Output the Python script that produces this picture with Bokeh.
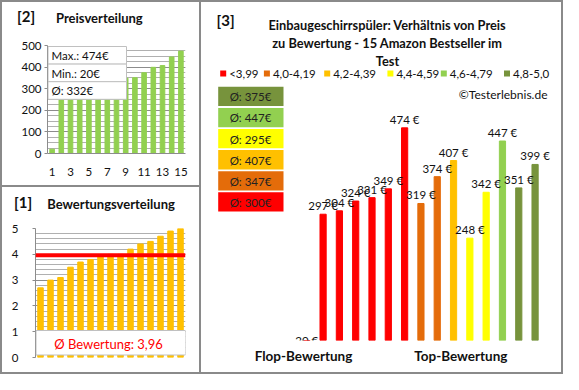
from bokeh.plotting import figure
from bokeh.models import BoxAnnotation, Label, FixedTicker, Span, ColumnDataSource
from bokeh.layouts import row, column
from bokeh.embed import file_html
from bokeh.resources import INLINE
from bokeh.core.properties import value

FONT = "Lato"
BORDER = "#8a8a8a"
GRID_MAJOR = "#8c8c8c"
GRID_MINOR = "#b0b0b0"
TXT = "#111111"

# ---------------- data ----------------
rank = list(range(1, 16))
prices_sorted = [20, 248, 297, 304, 319, 324, 331, 342, 349, 351, 374, 399, 407, 447, 474]
ratings_sorted = [2.7, 3.0, 3.1, 3.5, 3.7, 3.8, 3.9, 4.0, 4.0, 4.2, 4.4, 4.5, 4.7, 4.9, 5.0]
rating_avg = 3.96
price_max, price_min, price_avg = 474, 20, 332
price_ticks = [0, 100, 200, 300, 400, 500]
price_minor = list(range(0, 501, 25))
rank_ticks = [1, 3, 5, 7, 9, 11, 13, 15]
rating_ticks = [0, 1, 2, 3, 4, 5]
rating_minor = [i / 5 for i in range(0, 26)]

prices_by_rating = [20, 297, 304, 324, 331, 349, 474, 319, 374, 407, 248, 342, 447, 351, 399]
class_by_rating = [0, 0, 0, 0, 0, 0, 0, 1, 1, 2, 3, 3, 4, 5, 5]
class_labels = ["<3,99", "4,0-4,19", "4,2-4,39", "4,4-4,59", "4,6-4,79", "4,8-5,0"]
class_colors = ["#FF0000", "#E46C0A", "#FFC000", "#FFFF00", "#92D050", "#77933C"]
class_avgs = [300, 347, 407, 295, 447, 375]
price_axis_min = 38.3          # value axis of panel [3] starts here (20 € bar falls below it)
bottom_names = ["Flop-Bewertung", "Top-Bewertung"]
bottom_pos = [0.8, 10.45]


# ---------------- helpers ----------------
def box(p, l, t, r, b, fill=None, line=None, lw=1):
    p.add_layout(BoxAnnotation(
        left=l, right=r, top=t, bottom=b,
        left_units="canvas", right_units="canvas", top_units="canvas", bottom_units="canvas",
        fill_color=fill, fill_alpha=1.0 if fill else 0.0,
        line_color=line, line_width=lw, line_alpha=1.0 if line else 0.0,
        level="overlay"))


def label(p, x, y, text, size, bold=False, color=TXT, align="left"):
    p.add_layout(Label(
        x=x, y=y, x_units="canvas", y_units="canvas", text=text,
        text_font=FONT, text_font_size=f"{size}px",
        text_font_style="bold" if bold else "normal",
        text_color=color, text_align=align, text_baseline="middle", level="overlay"))


def style_axis(ax, size="11.5px"):
    ax.axis_line_color = GRID_MAJOR
    ax.major_tick_line_color = None
    ax.minor_tick_line_color = None
    ax.major_label_text_font = FONT
    ax.major_label_text_font_size = size
    ax.major_label_text_color = TXT


WHITE = {"background-color": "white"}
COMMON = dict(output_backend="svg", toolbar_location=None, styles=WHITE, title=None,
              outline_line_color=None, background_fill_color="white", border_fill_color="white")


def header(width, height):
    h = figure(width=width, height=height, x_range=(0, 1), y_range=(0, 1),
               x_axis_location=None, y_axis_location=None,
               min_border_left=0, min_border_right=0, min_border_top=0, min_border_bottom=0,
               **COMMON)
    h.grid.grid_line_color = None
    h.scatter(x=[], y=[])
    return h


# ---------------- panel [2] Preisverteilung ----------------
LW = 197
h2 = header(LW, 36)
label(h2, 14.5, 13.5, "[2]", 15, bold=True)
label(h2, 53.5, 15.5, "Preisverteilung", 13, bold=True)

p2 = figure(width=LW, height=147, x_range=(0.5, 15.5), y_range=(0, 500),
            min_border_left=45, min_border_right=14, min_border_top=7, min_border_bottom=32,
            **COMMON)
p2.vbar(x=rank, top=prices_sorted, width=0.5, color="#92D050")
p2.xgrid.grid_line_color = None
p2.yaxis.ticker = FixedTicker(ticks=price_ticks, minor_ticks=price_minor)
p2.xaxis.ticker = FixedTicker(ticks=rank_ticks)
p2.ygrid.grid_line_color = GRID_MAJOR
p2.ygrid.minor_grid_line_color = GRID_MINOR
for ax in p2.axis:
    style_axis(ax)
p2.yaxis.major_tick_line_color = GRID_MAJOR
p2.yaxis.major_tick_out = 3
p2.yaxis.major_tick_in = 0
p2.yaxis.major_label_standoff = 2
p2.xaxis.major_label_standoff = 8
stats = [f"Max.: {price_max}€", f"Min.: {price_min}€", f"Ø: {price_avg}€"]
for i, s in enumerate(stats):
    t = 8 + i * 17.6
    box(p2, 45.5, t, 124, t + 17.6, "white", "#c0c0c0", 1)
    label(p2, 49, t + 9, s, 11.5)

# ---------------- panel [1] Bewertungsverteilung ----------------
h1 = header(LW, 34)
label(h1, 11.6, 14.5, "[1]", 15, bold=True)
label(h1, 44.7, 16.5, "Bewertungsverteilung", 13, bold=True)

p1 = figure(width=LW, height=151, x_range=(0.5, 15.5), y_range=(0, 5),
            x_axis_location=None,
            min_border_left=33, min_border_right=14, min_border_top=7, min_border_bottom=15,
            **COMMON)
p1.vbar(x=rank, top=ratings_sorted, width=0.55, color="#FFC000")
p1.xgrid.grid_line_color = None
p1.yaxis.ticker = FixedTicker(ticks=rating_ticks, minor_ticks=rating_minor)
p1.ygrid.grid_line_color = GRID_MAJOR
p1.ygrid.minor_grid_line_color = GRID_MINOR
style_axis(p1.yaxis[0])
p1.yaxis.major_tick_line_color = GRID_MAJOR
p1.yaxis.major_tick_out = 3
p1.yaxis.major_tick_in = 0
p1.yaxis.major_label_standoff = 13
p1.add_layout(Span(location=rating_avg, dimension="width", line_color="#FF0000", line_width=4))
box(p1, 33.5, 109, 183, 133.5, "white", "#c0c0c0", 1)
label(p1, 106, 122, "Ø Bewertung: " + f"{rating_avg:.2f}".replace(".", ","), 13, color="#FF0000", align="center")

# ---------------- panel [3] Preis vs Bewertung ----------------
p3 = figure(width=360, height=370, x_range=(-5.456, 16.62), y_range=(price_axis_min, 730.8),
            y_axis_location=None,
            min_border_left=0, min_border_right=0, min_border_top=0, min_border_bottom=32,
            **COMMON)
p3.grid.grid_line_color = None
src = ColumnDataSource(dict(
    x=rank,
    price=prices_by_rating,
    color=[class_colors[c] for c in class_by_rating],
    txt=[f"{v} €" for v in prices_by_rating],
))
p3.vbar(x="x", top="price", bottom=0, width=0.38, color="color", source=src)
p3.text(x="x", y="price", text="txt", source=src, text_font=value(FONT),
        text_font_size="11.5px", text_align="center", text_baseline="bottom",
        y_offset=-2, text_color=TXT)
xa = p3.xaxis[0]
xa.ticker = FixedTicker(ticks=bottom_pos)
xa.major_label_overrides = {pos: name for pos, name in zip(bottom_pos, bottom_names)}
xa.axis_line_color = None
xa.major_tick_line_color = None
xa.minor_tick_line_color = None
xa.major_label_text_font = FONT
xa.major_label_text_font_size = "13.5px"
xa.major_label_text_font_style = "bold"
xa.major_label_text_color = TXT
xa.major_label_standoff = 1

label(p3, 15, 17, "[3]", 15, bold=True)
title_lines = ["Einbaugeschirrspüler: Verhältnis von Preis",
               "zu Bewertung - 15 Amazon Bestseller im",
               "Test"]
for i, tl in enumerate(title_lines):
    label(p3, 186, 22 + i * 18.2, tl, 12.8, bold=True, align="center")

leg_sq = [18.7, 62.4, 122.7, 185.9, 239.3, 302.5]
for xs, lab, col in zip(leg_sq, class_labels, class_colors):
    box(p3, xs, 68, xs + 6, 74, col)
    label(p3, xs + 9, 71, lab, 11.5)

for i, (avg, col) in enumerate(zip(class_avgs[::-1], class_colors[::-1])):
    t = 84.3 + i * 21.1
    box(p3, 16.7, t, 82, t + 19.3, col)
    label(p3, 49, t + 10, f"Ø: {avg}€", 11.5, align="center", color="#222222")

label(p3, 346, 92, "©Testerlebnis.de", 12, align="right")

# headers wrapped in rows so their frames are not aligned with the charts below
sec2 = column(row(h2), p2)
sec1 = column(row(h1), p1)
left = column(sec2, sec1, spacing=2)
layout = row(left, p3, spacing=2,
             styles={"background-color": BORDER, "padding": "2px"})
open("out.html", "w").write(file_html(layout, INLINE))
